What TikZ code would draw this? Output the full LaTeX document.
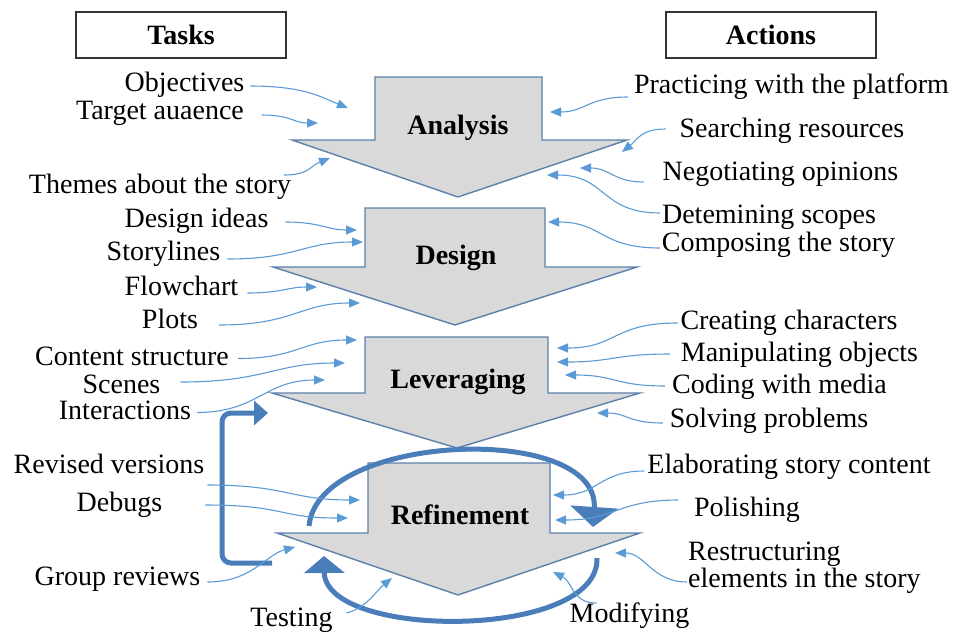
\documentclass[tikz,border=0pt]{standalone}
\usepackage{fontspec}
\setmainfont{Liberation Serif}
\usetikzlibrary{arrows.meta}

\definecolor{linkblue}{HTML}{5B9BD5}
\definecolor{cycleblue}{HTML}{4A7EBB}
\definecolor{stagefill}{HTML}{D9D9D9}
\definecolor{stageline}{HTML}{5B80AC}

\tikzset{
  stage/.style={fill=stagefill,draw=stageline,line width=1.4pt,line join=miter},
  stagelabel/.style={font=\fontsize{28}{28}\selectfont\bfseries,inner sep=2pt},
  head/.style={draw=black!80,line width=1.5pt,minimum width=210pt,minimum height=46pt,font=\fontsize{28}{28}\selectfont\bfseries},
  item/.style={inner sep=0pt,outer sep=2pt,text height=17pt,text depth=5pt},
  link/.style={draw=linkblue,line width=1.1pt,-{Triangle[length=11pt,width=9pt]}},
  loopline/.style={draw=cycleblue,line width=5pt},
}

\begin{document}
\begin{tikzpicture}[x=1pt,y=-1pt,font=\fontsize{28}{27}\selectfont]
\useasboundingbox (0,0) rectangle (962,633);

% the four stages
\draw[stage] (375,77) -- (542,77) -- (542,140) -- (627,140) -- (458,197) -- (292,140) -- (375,140) -- cycle;
\draw[stage] (365,208) -- (545,208) -- (545,267) -- (637,267) -- (455,325) -- (273,267) -- (365,267) -- cycle;
\draw[stage] (365,337) -- (548,337) -- (548,393) -- (640,393) -- (457,448) -- (272,393) -- (365,393) -- cycle;
\draw[stage] (368,463) -- (550,463) -- (550,533) -- (640,533) -- (458,595) -- (277,533) -- (368,533) -- cycle;
\node[stagelabel] (ana) at (458,128) {Analysis};
\node[stagelabel] (des) at (456,258) {Design};
\node[stagelabel] (lev) at (458,382) {Leveraging};
\node[stagelabel] (ref) at (460,515) {Refinement};

% refinement cycle and the way back
\draw[loopline,-{Triangle[length=20pt,width=47pt]}] (309,526) .. controls (318,432) and (600,422) .. (593,527);
\draw[loopline,-{Triangle[length=17pt,width=40pt]}] (597,558) .. controls (600,640) and (325,640) .. (324,556);
\draw[loopline,rounded corners=9pt,-{Triangle[length=14pt,width=24pt]}] (272,563) -- (222,563) -- (222,413) -- (268,413);

% column heads
\node[head] (tasks) at (181,35) {Tasks};
\node[head] (actions) at (771,35) {Actions};

% tasks
\node[item] (obj) at (184.5,85) {Objectives};
\node[item] (tgt) at (160,113) {Target auaence};
\node[item] (thm) at (160,187) {Themes about the story};
\node[item] (dsi) at (196.5,221) {Design ideas};
\node[item] (sto) at (163.5,254) {Storylines};
\node[item] (flo) at (181.5,289) {Flowchart};
\node[item] (plo) at (170,322) {Plots};
\node[item] (con) at (132,359.5) {Content structure};
\node[item] (sce) at (121.5,387) {Scenes};
\node[item] (int) at (125,413.5) {Interactions};
\node[item] (rev) at (109,467) {Revised versions};
\node[item] (deb) at (119.5,505) {Debugs};
\node[item] (grp) at (117.5,579) {Group reviews};
\node[item] (tst) at (291.5,620) {Testing};

% actions
\node[item] (pra) at (791.5,87) {Practicing with the platform};
\node[item] (sea) at (792,131) {Searching resources};
\node[item] (neg) at (780.5,174) {Negotiating opinions};
\node[item] (det) at (769,217) {Detemining scopes};
\node[item] (com) at (778.5,245) {Composing the story};
\node[item] (cre) at (789,323) {Creating characters};
\node[item] (man) at (799.5,355) {Manipulating objects};
\node[item] (cod) at (779.5,387) {Coding with media};
\node[item] (sol) at (769,421) {Solving problems};
\node[item] (ela) at (789,467) {Elaborating story content};
\node[item] (pol) at (747,510) {Polishing};
\node[inner sep=2pt,align=left,anchor=west] (rst) at (686,568) {Restructuring\\elements in the story};
\node[item] (mod) at (629.5,616) {Modifying};

% where the links end
\foreach \n/\x/\y in {obj/348/108, tgt/318/123, thm/330/158, dsi/357/230, sto/363/242,
    flo/317/287, plo/360/303, con/357/340, sce/345/363, int/325/380, rev/360/500,
    deb/348/518, grp/295/547, tst/392/578, pra/550/112, sea/622/152, neg/580/168,
    det/547/175, com/548/222, cre/557/348, man/557/362, cod/565/375, sol/597/413,
    ela/553/495, pol/555/520, rst/615/553, mod/553/572}
  \coordinate (\n-t) at (\x,\y);

% links from the tasks
\draw[link] ([shift={(4,1)}]obj.east) .. controls +(55,0) and +(-25,-10) .. (obj-t);
\draw[link] ([shift={(16,2)}]tgt.east) .. controls +(30,0) and +(-25,0) .. (tgt-t);
\draw[link] ([shift={(-9,-12)}]thm.east) .. controls +(25,0) and +(-20,8) .. (thm-t);
\draw[link] ([shift={(15,1)}]dsi.east) .. controls +(35,0) and +(-30,0) .. (dsi-t);
\draw[link] ([shift={(5,5)}]sto.east) .. controls +(70,0) and +(-60,0) .. (sto-t);
\draw[link] ([shift={(7,4)}]flo.east) .. controls +(35,0) and +(-30,0) .. (flo-t);
\draw[link] ([shift={(19,3)}]plo.east) .. controls +(75,0) and +(-60,0) .. (plo-t);
\draw[link] ([shift={(7,-1)}]con.east) .. controls +(60,0) and +(-55,0) .. (con-t);
\draw[link] ([shift={(18,-5)}]sce.east) .. controls +(85,0) and +(-70,0) .. (sce-t);
\draw[link] ([shift={(4,-1)}]int.east) .. controls +(60,0) and +(-60,0) .. (int-t);
\draw[link] ([shift={(1,18)}]rev.east) .. controls +(80,0) and +(-70,0) .. (rev-t);
\draw[link] ([shift={(41,0)}]deb.east) .. controls +(80,0) and +(-70,0) .. (deb-t);
\draw[link] ([shift={(5,3)}]grp.east) .. controls +(45,0) and +(-30,8) .. (grp-t);
\draw[link] ([shift={(12,-7)}]tst.east) .. controls +(20,-5) and +(-15,12) .. (tst-t);

% links from the actions
\draw[link] ([shift={(-4,10)}]pra.west) .. controls +(-40,0) and +(35,0) .. (pra-t);
\draw[link] ([shift={(-12,-2)}]sea.west) .. controls +(-25,0) and +(15,-12) .. (sea-t);
\draw[link] ([shift={(-17,8)}]neg.west) .. controls +(-30,0) and +(30,0) .. (neg-t);
\draw[link] ([shift={(0,-4)}]det.west) .. controls +(-60,0) and +(60,0) .. (det-t);
\draw[link] ([shift={(0,3)}]com.west) .. controls +(-60,0) and +(55,0) .. (com-t);
\draw[link] ([shift={(-1,0)}]cre.west) .. controls +(-65,0) and +(60,0) .. (cre-t);
\draw[link] ([shift={(-9,-1)}]man.west) .. controls +(-55,0) and +(55,0) .. (man-t);
\draw[link] ([shift={(-5,-1)}]cod.west) .. controls +(-50,0) and +(50,0) .. (cod-t);
\draw[link] ([shift={(-5,2)}]sol.west) .. controls +(-35,0) and +(30,0) .. (sol-t);
\draw[link] ([shift={(-1,4)}]ela.west) .. controls +(-45,0) and +(45,0) .. (ela-t);
\draw[link] ([shift={(-14,-10)}]pol.west) .. controls +(-60,0) and +(60,0) .. (pol-t);
\draw[link] ([shift={(1,14)}]rst.west) .. controls +(-35,0) and +(30,0) .. (rst-t);
\draw[link] ([shift={(29,0)}]mod.north west) .. controls +(-25,0) and +(20,10) .. (mod-t);
\end{tikzpicture}
\end{document}
